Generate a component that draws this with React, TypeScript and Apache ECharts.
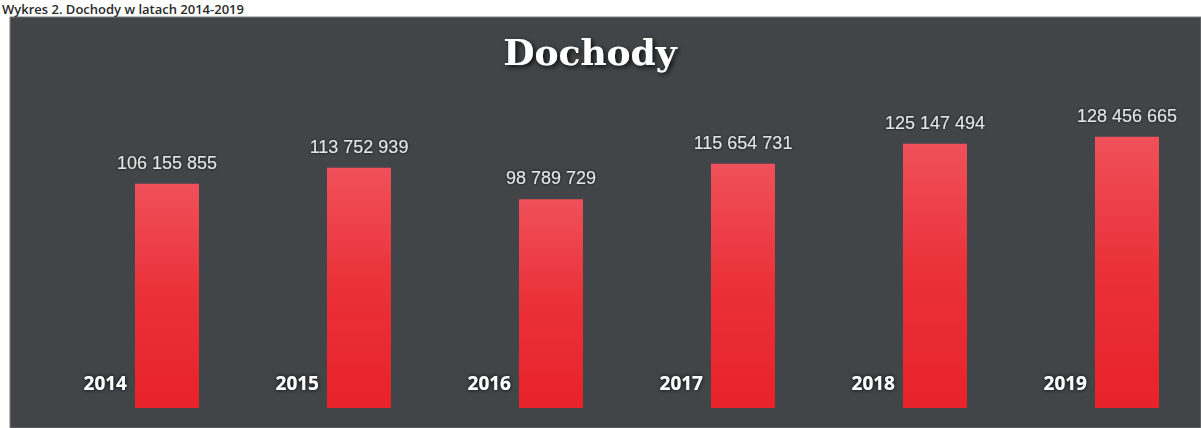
import React, { useEffect, useRef } from "react";
import * as echarts from "echarts";

const years = ["2014", "2015", "2016", "2017", "2018", "2019"];
const incomes = [106155855, 113752939, 98789729, 115654731, 125147494, 128456665];
const chartTitle = "Dochody";
const caption = "Wykres 2. Dochody w latach 2014-2019";

const fmt = (v: number) => String(v).replace(/\B(?=(\d{3})+(?!\d))/g, " ");

export default function App() {
  const ref = useRef<HTMLDivElement>(null);
  useEffect(() => {
    const chart = echarts.init(ref.current!, null, { renderer: "svg" });
    chart.setOption({
      animation: false,
      backgroundColor: "#ffffff",
      graphic: [
        {
          type: "rect",
          z: -10,
          shape: { x: 10, y: 17, width: 1191, height: 411 },
          style: { fill: "#414547", stroke: "#7a7d7f", lineWidth: 1 },
        },
        {
          type: "text",
          x: 2,
          y: 2,
          style: {
            text: caption,
            font: "600 13px 'Open Sans', sans-serif",
            fill: "#2a2a2a",
            verticalAlign: "top",
            align: "left",
          },
        },
        {
          type: "text",
          x: 590,
          y: 52,
          style: {
            text: chartTitle,
            font: "bold 36px 'DejaVu Serif', serif",
            fill: "#ffffff",
            align: "center",
            verticalAlign: "middle",
            textShadowColor: "rgba(0,0,0,0.85)",
            textShadowBlur: 5,
            textShadowOffsetX: 2,
            textShadowOffsetY: 2,
          },
        },
      ],
      grid: { left: 167, right: 74, top: 70, bottom: 20 },
      xAxis: {
        type: "category",
        data: years,
        boundaryGap: false,
        axisLine: { show: false },
        axisTick: { show: false },
        splitLine: { show: false },
        axisLabel: {
          inside: true,
          margin: 16,
          align: "right",
          padding: [0, 40, 0, 0],
          color: "#ffffff",
          fontFamily: "'Open Sans', sans-serif",
          fontWeight: "bold",
          fontSize: 19,
          textShadowColor: "rgba(0,0,0,0.9)",
          textShadowBlur: 4,
        },
      },
      yAxis: {
        type: "value",
        min: 0,
        max: 160000000,
        show: false,
        splitLine: { show: false },
      },
      series: [
        {
          type: "bar",
          data: incomes,
          barWidth: 64,
          itemStyle: {
            color: new echarts.graphic.LinearGradient(0, 0, 0, 1, [
              { offset: 0, color: "#f0505a" },
              { offset: 0.5, color: "#ea3038" },
              { offset: 1, color: "#e8222a" },
            ]),
          },
          label: {
            show: true,
            position: "top",
            distance: 12,
            formatter: (p: any) => fmt(p.value),
            color: "#e4e4e4",
            fontFamily: "'Liberation Sans', sans-serif",
            fontSize: 18,
            textShadowColor: "rgba(0,0,0,0.8)",
            textShadowBlur: 3,
          },
        },
      ],
    });
    return () => chart.dispose();
  }, []);
  return (
    <div
      ref={ref}
      style={{ position: "fixed", left: 0, top: 0, width: 1201, height: 428 }}
    />
  );
}
